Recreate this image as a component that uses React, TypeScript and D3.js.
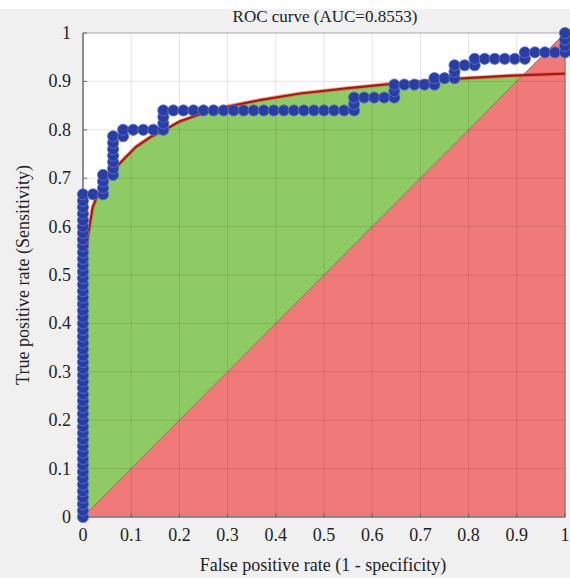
import React from 'react';
import * as d3 from 'd3';

// empirical ROC as runs: move right `fp` negatives, then up `tp` positives
const nNeg = 48;
const nPos = 75;
const runs = [
  { fp: 0, tp: 50 },
  { fp: 2, tp: 3 },
  { fp: 1, tp: 6 },
  { fp: 1, tp: 1 },
  { fp: 4, tp: 3 },
  { fp: 19, tp: 2 },
  { fp: 4, tp: 2 },
  { fp: 4, tp: 1 },
  { fp: 2, tp: 2 },
  { fp: 2, tp: 1 },
  { fp: 5, tp: 1 },
  { fp: 4, tp: 3 },
];

// fitted smooth ROC
const fitFpr = [0, 0.0003, 0.001, 0.003, 0.006, 0.01, 0.02, 0.04, 0.066, 0.09, 0.11, 0.14, 0.17, 0.2, 0.25, 0.3, 0.37, 0.45, 0.55, 0.64, 0.75, 0.89, 1];
const fitTpr = [0, 0.2, 0.33, 0.45, 0.53, 0.58, 0.64, 0.69, 0.72, 0.745, 0.765, 0.785, 0.8, 0.817, 0.835, 0.848, 0.862, 0.875, 0.886, 0.895, 0.904, 0.912, 0.916];

const ticks = [0, 0.1, 0.2, 0.3, 0.4, 0.5, 0.6, 0.7, 0.8, 0.9, 1];
const tickLabels = ['0', '0.1', '0.2', '0.3', '0.4', '0.5', '0.6', '0.7', '0.8', '0.9', '1'];

const title = 'ROC curve (AUC=0.8553)';
const xLabel = 'False positive rate (1 - specificity)';
const yLabel = 'True positive rate (Sensitivity)';

const W = 570;
const H = 578;
const font = '"Liberation Serif", "DejaVu Serif", serif';

export default function App() {
  const x = d3.scaleLinear().domain([0, 1]).range([83, 565]);
  const y = d3.scaleLinear().domain([0, 1]).range([517, 33]);

  // build ROC points from the runs
  const pts: [number, number][] = [[0, 0]];
  let fp = 0;
  let tp = 0;
  runs.forEach(r => {
    for (let i = 0; i < r.fp; i++) { fp++; pts.push([fp / nNeg, tp / nPos]); }
    for (let i = 0; i < r.tp; i++) { tp++; pts.push([fp / nNeg, tp / nPos]); }
  });

  const fit = fitFpr.map((f, i) => [f, fitTpr[i]] as [number, number]);

  const greenArea = d3.area<[number, number]>()
    .x(d => x(d[0]))
    .y0(d => y(d[0]))
    .y1(d => y(d[1]))(fit);

  const fitLine = d3.line<[number, number]>().x(d => x(d[0])).y(d => y(d[1]))(fit);
  const rocLine = d3.line<[number, number]>().x(d => x(d[0])).y(d => y(d[1]))(pts);
  const redTri = d3.line<[number, number]>().x(d => x(d[0])).y(d => y(d[1]))([[0, 0], [1, 0], [1, 1]]) + 'Z';

  return (
    <svg width={W} height={H} style={{ position: 'absolute', left: 0, top: 0 }} fontFamily={font}>
      <rect x={0} y={0} width={W} height={H} fill="#f0f0f0" />
      <rect x={0} y={0} width={W} height={9} fill="#ffffff" />
      <rect x={x(0)} y={y(1)} width={x(1) - x(0)} height={y(0) - y(1)} fill="#ffffff" />

      <path d={greenArea ?? ''} fill="#8fcb64" />
      <path d={redTri} fill="#f07a7a" />
      <line x1={x(0)} y1={y(0)} x2={x(1)} y2={y(1)} stroke="#6b8a45" strokeWidth={1} />

      {ticks.map((t, i) => (
        <g key={'g' + i}>
          <line x1={x(t)} x2={x(t)} y1={y(0)} y2={y(1)} stroke="rgba(0,0,0,0.11)" strokeWidth={1} />
          <line x1={x(0)} x2={x(1)} y1={y(t)} y2={y(t)} stroke="rgba(0,0,0,0.11)" strokeWidth={1} />
        </g>
      ))}

      <rect x={x(0)} y={y(1)} width={x(1) - x(0)} height={y(0) - y(1)} fill="none" stroke="#b5b5b5" strokeWidth={1} />
      <line x1={x(0)} x2={x(0)} y1={y(0)} y2={y(1)} stroke="#7a7a7a" strokeWidth={1.5} />
      <line x1={x(0)} x2={x(1)} y1={y(0)} y2={y(0)} stroke="#7a7a7a" strokeWidth={1.5} />
      <line x1={x(1)} x2={x(1)} y1={y(0)} y2={y(1)} stroke="#8a6060" strokeWidth={1} />
      {ticks.map((t, i) => (
        <g key={'t' + i}>
          <line x1={x(t)} x2={x(t)} y1={y(0)} y2={y(0) - 4} stroke="#666" />
          <line x1={x(0)} x2={x(0) + 4} y1={y(t)} y2={y(t)} stroke="#666" />
        </g>
      ))}

      <path d={fitLine ?? ''} fill="none" stroke="#e05a2a" strokeWidth={4} strokeOpacity={0.5} />
      <path d={fitLine ?? ''} fill="none" stroke="#a81818" strokeWidth={2.2} />

      <path d={rocLine ?? ''} fill="none" stroke="#2c3ea0" strokeWidth={2} />
      {pts.map((p, i) => (
        <circle key={'p' + i} cx={x(p[0])} cy={y(p[1])} r={5.6} fill="#2c3da2" stroke="#5577d0" strokeWidth={0.8} />
      ))}

      {ticks.map((t, i) => (
        <text key={'xl' + i} x={x(t)} y={541} textAnchor="middle" fontSize={18} fill="#222">{tickLabels[i]}</text>
      ))}
      {ticks.map((t, i) => (
        <text key={'yl' + i} x={71} y={y(t) + 6} textAnchor="end" fontSize={18} fill="#222">{tickLabels[i]}</text>
      ))}

      <text x={325} y={22} textAnchor="middle" fontSize={17} fill="#222">{title}</text>
      <text x={323} y={571} textAnchor="middle" fontSize={18} fill="#222">{xLabel}</text>
      <text transform={`translate(29,${(y(0) + y(1)) / 2}) rotate(-90)`} textAnchor="middle" fontSize={18} fill="#222">{yLabel}</text>
    </svg>
  );
}
